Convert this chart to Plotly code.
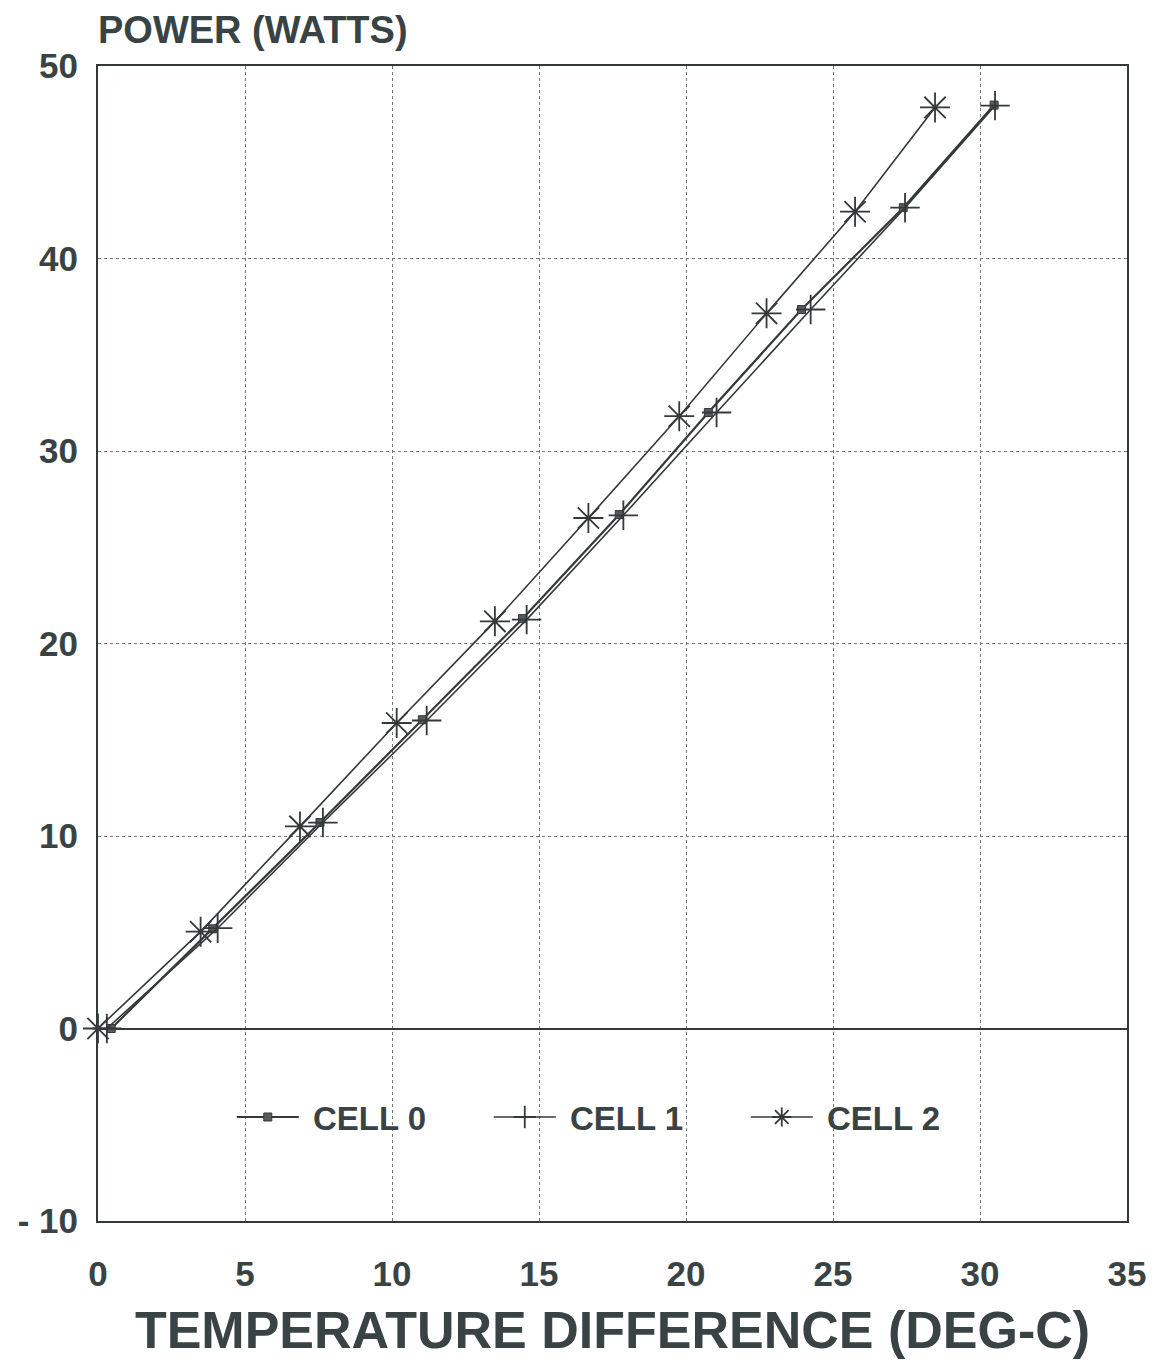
import plotly.graph_objects as go

# ---- data ----
cell0_x = [0.45, 3.90, 7.55, 11.03, 14.44, 17.73, 20.76, 23.93, 27.39, 30.48]
cell0_y = [0.0, 5.18, 10.70, 16.04, 21.29, 26.70, 32.00, 37.35, 42.64, 47.97]
cell1_x = [0.30, 4.07, 7.65, 11.18, 14.58, 17.87, 21.04, 24.24, 27.45, 30.51]
cell1_y = [0.0, 5.21, 10.70, 16.00, 21.24, 26.66, 32.00, 37.35, 42.64, 47.94]
cell2_x = [0.0, 3.49, 6.87, 10.16, 13.50, 16.68, 19.77, 22.74, 25.75, 28.47]
cell2_y = [0.0, 5.03, 10.50, 15.87, 21.15, 26.52, 31.81, 37.15, 42.43, 47.85]

series_names = ["CELL 0", "CELL 1", "CELL 2"]
x_tickvals = [0, 5, 10, 15, 20, 25, 30, 35]
x_ticktext = ["0", "5", "10", "15", "20", "25", "30", "35"]
y_tickvals = [-10, 0, 10, 20, 30, 40, 50]
y_ticktext = ["- 10", "0", "10", "20", "30", "40", "50"]
x_title = "TEMPERATURE DIFFERENCE (DEG-C)"
y_title = "POWER (WATTS)"

INK = "#3a4343"
LINE = "#333838"
FONT = "Liberation Sans, Arial, sans-serif"
W = "bold"

fig = go.Figure()
fig.add_trace(go.Scatter(
    x=cell0_x, y=cell0_y, name="\u00a0" + series_names[0], mode="lines+markers",
    line=dict(color=LINE, width=2.2),
    marker=dict(symbol="square", size=8, color="#555a5a",
                line=dict(color=LINE, width=1)),
    cliponaxis=False))
fig.add_trace(go.Scatter(
    x=cell1_x, y=cell1_y, name="\u00a0" + series_names[1], mode="lines+markers",
    line=dict(color=LINE, width=1.6),
    marker=dict(symbol="cross-thin", size=21, color=LINE,
                line=dict(color=LINE, width=1.8)),
    cliponaxis=False))
fig.add_trace(go.Scatter(
    x=cell2_x, y=cell2_y, name="\u00a0" + series_names[2], mode="lines+markers",
    line=dict(color=LINE, width=1.6),
    marker=dict(symbol="asterisk", size=25, color=LINE,
                line=dict(color=LINE, width=1.8)),
    cliponaxis=False))

fig.update_layout(
    width=1159, height=1362,
    margin=dict(l=98, r=32, t=66, b=141),
    paper_bgcolor="white", plot_bgcolor="white",
    font=dict(family=FONT, color=INK, weight=W),
    showlegend=True,
    legend=dict(orientation="h", x=0.13, y=0.09, xanchor="left", yanchor="middle",
                bgcolor="rgba(0,0,0,0)",
                font=dict(size=33, color=INK, family=FONT, weight=W),
                itemwidth=62, entrywidth=180, entrywidthmode="pixels",
                traceorder="normal"),
    xaxis=dict(range=[0, 35], tickvals=x_tickvals, ticktext=x_ticktext,
               showgrid=True, gridcolor="#777", griddash="dot", gridwidth=1,
               showline=True, linecolor=LINE, linewidth=2, mirror=True,
               zeroline=False, ticks="", ticklabelstandoff=21,
               tickfont=dict(size=35, color=INK, family=FONT, weight=W),
               title=dict(text=x_title,
                          font=dict(size=52, color=INK, family=FONT, weight=W),
                          standoff=20)),
    yaxis=dict(range=[-10, 50], tickvals=y_tickvals, ticktext=y_ticktext,
               showgrid=True, gridcolor="#777", griddash="dot", gridwidth=1,
               showline=True, linecolor=LINE, linewidth=2, mirror=True,
               zeroline=True, zerolinecolor=LINE, zerolinewidth=1.6,
               ticks="", ticklabelstandoff=11,
               tickfont=dict(size=35, color=INK, family=FONT, weight=W)),
    annotations=[dict(text=y_title, xref="paper", yref="paper", x=-0.002, y=1.031,
                      xanchor="left", yanchor="middle", showarrow=False,
                      font=dict(size=38, color=INK, family=FONT, weight=W))],
)

fig.write_html("out.html")
